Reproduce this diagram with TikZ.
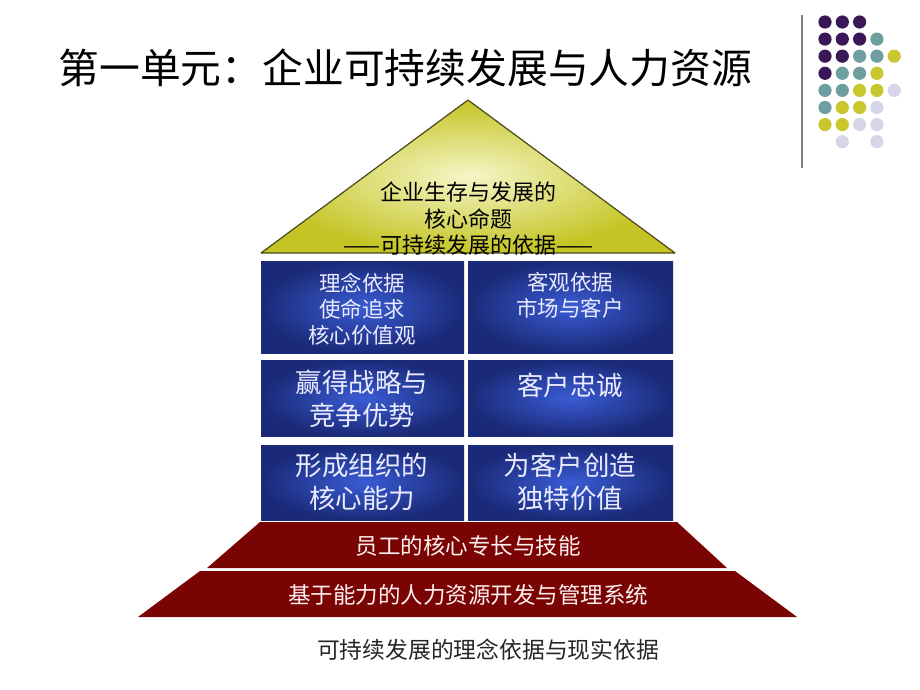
\documentclass[tikz,border=0pt]{standalone}
\usepackage{fontspec}
\usepackage{xcolor}
\newfontfamily\cjk{Noto Sans CJK SC}

\definecolor{roofedge}{HTML}{C4C424}
\definecolor{rooflight}{HTML}{F6F6C8}
\definecolor{roofline}{HTML}{4A4A1C}
\definecolor{boxdark}{HTML}{1A2A78}
\definecolor{boxlight}{HTML}{3A5CD4}
\definecolor{baseRed}{HTML}{7A0404}
\definecolor{dotP}{HTML}{3A1858}
\definecolor{dotT}{HTML}{6E9EA0}
\definecolor{dotY}{HTML}{C8C82E}
\definecolor{dotL}{HTML}{D6D6E8}

\begin{document}
\begin{tikzpicture}[x=1pt, y=-1pt,
  boxtext/.style={text=white!92!blue, align=center, font=\cjk\fontsize{21.5}{26}\selectfont},
  bigtext/.style={text=white!92!blue, align=center, font=\cjk\fontsize{26.5}{33}\selectfont},
  redtext/.style={text=red!6!white, font=\cjk\fontsize{22.5}{26}\selectfont}]
\useasboundingbox (0,0) rectangle (920,690);

% title
\node[font=\cjk\fontsize{40.8}{48}\selectfont, anchor=west] (title) at (55,68) {第一单元：企业可持续发展与人力资源};

% corner decoration
\draw[gray, line width=1.6pt] (802,15) -- (802,168);
\foreach \c/\r/\col in {0/0/dotP,1/0/dotP,2/0/dotP,
    0/1/dotP,1/1/dotP,2/1/dotP,3/1/dotT,
    0/2/dotP,1/2/dotP,2/2/dotT,3/2/dotT,4/2/dotY,
    0/3/dotP,1/3/dotT,2/3/dotT,3/3/dotY,
    0/4/dotT,1/4/dotT,2/4/dotY,3/4/dotY,4/4/dotL,
    0/5/dotT,1/5/dotY,2/5/dotY,3/5/dotL,
    0/6/dotY,1/6/dotY,2/6/dotL,3/6/dotL,
    1/7/dotL,3/7/dotL}
  \fill[\col] (825+17.3*\c, 22+17.1*\r) circle (6.6);

% roof
\shade[inner color=rooflight, outer color=roofedge] (261,253) -- (468,100) -- (675,253) -- cycle;
\draw[roofline, line width=1.2pt, line join=round] (261,253) -- (468,100) -- (675,253) -- cycle;
\node[font=\cjk\fontsize{22}{27}\selectfont, align=center] (roof) at (468,206)
  {企业生存与发展的\\核心命题};
\node[font=\cjk\fontsize{22}{26}\selectfont] (roofsub) at (468,245) {——可持续发展的依据——};

% blue blocks
\foreach \x/\w in {261/203, 468/205}{
  \shade[inner color=boxlight, outer color=boxdark] (\x,261) rectangle ++(\w,92);
  \shade[inner color=boxlight, outer color=boxdark] (\x,360) rectangle ++(\w,76);
  \shade[inner color=boxlight, outer color=boxdark] (\x,445) rectangle ++(\w,75);
}
\node[boxtext] (idea) at (362,309) {理念依据\\使命追求\\核心价值观};
\node[boxtext] (market) at (570,295) {客观依据\\市场与客户};
\node[bigtext] (win) at (362,399) {赢得战略与\\竞争优势};
\node[bigtext] (loyal) at (570,385) {客户忠诚};
\node[bigtext] (core) at (362,482) {形成组织的\\核心能力};
\node[bigtext] (value) at (570,482) {为客户创造\\独特价值};

% base
\fill[baseRed] (260,522) -- (677,522) -- (727,568) -- (207,568) -- cycle;
\fill[baseRed] (200,571) -- (735,571) -- (797,617) -- (138,617) -- cycle;
\node[redtext] (skill) at (468,546) {员工的核心专长与技能};
\node[redtext] (hrm) at (468,595) {基于能力的人力资源开发与管理系统};

% caption
\node[font=\cjk\fontsize{22.8}{27}\selectfont, text=black!85] (caption) at (488,650) {可持续发展的理念依据与现实依据};
\end{tikzpicture}
\end{document}
